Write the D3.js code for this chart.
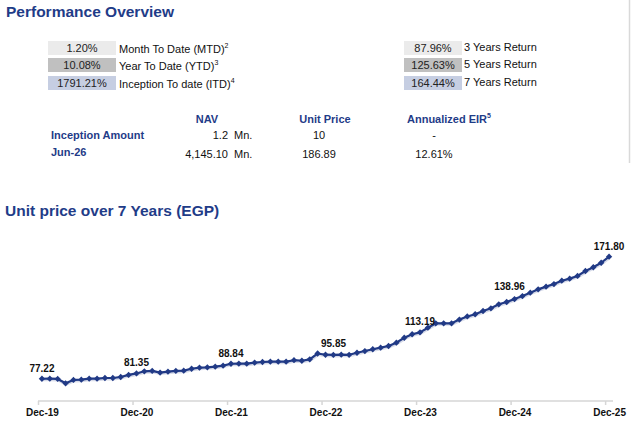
<!DOCTYPE html>
<html>
<head>
<meta charset="utf-8">
<script src="https://cdn.jsdelivr.net/npm/d3@7"></script>
<style>
  html, body { margin: 0; padding: 0; background: #ffffff; }
  svg { display: block; font-family: "Liberation Sans", Arial, sans-serif; }
</style>
</head>
<body>
<svg id="chart" width="631" height="430"></svg>
<script>
// ---------- data ----------
const leftReturnValues = ["1.20%", "10.08%", "1791.21%"];
const leftReturnLabels = ["Month To Date (MTD)", "Year To Date (YTD)", "Inception To date (ITD)"];
const leftReturnNotes  = ["2", "3", "4"];
const rightReturnValues = ["87.96%", "125.63%", "164.44%"];
const rightReturnLabels = ["3 Years Return", "5 Years Return", "7 Years Return"];

const tableHeaders = ["NAV", "Unit Price", "Annualized EIR"];
const tableRowNames = ["Inception Amount", "Jun-26"];
const tableNav = ["1.2", "4,145.10"];
const tableUnitPrice = ["10", "186.89"];
const tableEir = ["-", "12.61%"];

const startMonth = new Date(2019, 11, 1);
const months = d3.timeMonth.range(startMonth, new Date(2026, 0, 1));
const categories = months.map(d3.timeFormat("%b-%y"));
const unitPrice = [
  77.22, 77.3, 77.1, 73.7, 76.3, 76.5, 77.3, 77.3, 77.8, 77.8, 78.6, 80.2,
  81.35, 83.0, 83.3, 82.0, 82.7, 83.3, 83.5, 85.0, 85.8, 86.1, 86.6, 87.4,
  88.84, 88.9, 88.9, 89.7, 90.2, 90.5, 90.5, 90.5, 91.6, 91.2, 92.3, 96.8,
  95.85, 95.7, 95.9, 95.8, 97.4, 98.7, 100.1, 101.3, 102.6, 105.2, 109.0, 111.7,
  113.19, 116.8, 120.2, 120.2, 120.2, 123.1, 125.5, 127.2, 129.7, 131.8, 134.9, 136.7,
  138.96, 141.3, 143.9, 146.5, 148.6, 150.6, 153.2, 154.8, 156.9, 160.7, 163.6, 167.1,
  171.80
];
const tickLabels = ["Dec-19", "Dec-20", "Dec-21", "Dec-22", "Dec-23", "Dec-24", "Dec-25"];

// ---------- drawing ----------
const svg = d3.select("#chart");
const BLUE = "#1f3c88";
const LINE = "#213a86";

// right separator line
svg.append("line").attr("x1", 629.5).attr("x2", 629.5).attr("y1", 0).attr("y2", 163)
  .attr("stroke", "#d9d9d9").attr("stroke-width", 1.5);

// title
svg.append("text").attr("x", 6).attr("y", 17).attr("fill", BLUE)
  .attr("font-size", "15.5px").attr("font-weight", "bold").text("Performance Overview");

const boxFills = ["#ebebeb", "#c0c0c0", "#c6cee2"];
const rowTops = [41, 58, 76];

// left return boxes
leftReturnValues.forEach((v, i) => {
  svg.append("rect").attr("x", 48).attr("y", rowTops[i]).attr("width", 68).attr("height", 14)
    .attr("fill", boxFills[i]);
  svg.append("text").attr("x", 82).attr("y", rowTops[i] + 11).attr("text-anchor", "middle")
    .attr("font-size", "11px").attr("fill", "#222").text(v);
  const t = svg.append("text").attr("x", 119).attr("y", rowTops[i] + 12)
    .attr("font-size", "11px").attr("fill", "#111");
  t.append("tspan").text(leftReturnLabels[i]);
  t.append("tspan").attr("dy", -5).attr("font-size", "7px").text(leftReturnNotes[i]);
});

// right return boxes
rightReturnValues.forEach((v, i) => {
  svg.append("rect").attr("x", 404).attr("y", rowTops[i]).attr("width", 58).attr("height", 14)
    .attr("fill", boxFills[i]);
  svg.append("text").attr("x", 433).attr("y", rowTops[i] + 11).attr("text-anchor", "middle")
    .attr("font-size", "11px").attr("fill", "#222").text(v);
  svg.append("text").attr("x", 464).attr("y", rowTops[i] + 10)
    .attr("font-size", "11px").attr("fill", "#111").text(rightReturnLabels[i]);
});

// table headers
svg.append("text").attr("x", 207).attr("y", 123).attr("text-anchor", "middle")
  .attr("font-size", "11px").attr("font-weight", "bold").attr("fill", BLUE).text(tableHeaders[0]);
svg.append("text").attr("x", 325).attr("y", 123).attr("text-anchor", "middle")
  .attr("font-size", "11px").attr("font-weight", "bold").attr("fill", BLUE).text(tableHeaders[1]);
const eir = svg.append("text").attr("x", 407).attr("y", 123)
  .attr("font-size", "11px").attr("font-weight", "bold").attr("fill", BLUE);
eir.append("tspan").text(tableHeaders[2]);
eir.append("tspan").attr("dy", -5).attr("font-size", "7px").text("5");

const rowBase = [139, 158];
tableRowNames.forEach((name, i) => {
  svg.append("text").attr("x", 51).attr("y", rowBase[i] - (i === 1 ? 2 : 0))
    .attr("font-size", "11px").attr("font-weight", "bold").attr("fill", BLUE).text(name);
  svg.append("text").attr("x", 228).attr("y", rowBase[i]).attr("text-anchor", "end")
    .attr("font-size", "11px").attr("fill", "#111").text(tableNav[i]);
  svg.append("text").attr("x", 234).attr("y", rowBase[i])
    .attr("font-size", "11px").attr("fill", "#111").text("Mn.");
  svg.append("text").attr("x", 319).attr("y", rowBase[i]).attr("text-anchor", "middle")
    .attr("font-size", "11px").attr("fill", "#111").text(tableUnitPrice[i]);
  svg.append("text").attr("x", 434).attr("y", rowBase[i]).attr("text-anchor", "middle")
    .attr("font-size", "11px").attr("fill", "#111").text(tableEir[i]);
});

// chart title
svg.append("text").attr("x", 5).attr("y", 216).attr("fill", BLUE)
  .attr("font-size", "15.5px").attr("font-weight", "bold").text("Unit price over 7 Years (EGP)");

// scales
const x = d3.scalePoint().domain(categories).range([38, 613]).padding(0.5);
const y = d3.scaleLinear().domain([60, 180]).range([401, 246.1]);
const step = x.step();

// axis
const axisG = svg.append("g").attr("transform", "translate(0,401)");
const axis = d3.axisBottom(x).tickValues(tickLabels).tickSize(0).tickPadding(0).tickFormat(d => d);
axisG.call(axis);
axisG.select(".domain").remove();
axisG.append("line").attr("x1", 38).attr("x2", 613).attr("y1", 0).attr("y2", 0)
  .attr("stroke", "#d6d6d6").attr("stroke-width", 1.5);
axisG.selectAll(".tick").each(function(d) {
  const g = d3.select(this);
  g.select("line").remove();
  g.append("line").attr("x1", -step / 2).attr("x2", -step / 2).attr("y1", 0).attr("y2", 4)
    .attr("stroke", "#d6d6d6").attr("stroke-width", 1.5);
  g.select("text").attr("y", 15).attr("dy", null)
    .attr("font-family", "'Liberation Sans', Arial, sans-serif")
    .attr("font-size", "10px").attr("font-weight", "bold").attr("fill", "#111");
});

// line
const pts = categories.map((c, i) => ({ c, v: unitPrice[i] }));
svg.append("path").datum(pts)
  .attr("fill", "none").attr("stroke", "#9aa6c8").attr("stroke-width", 3.4).attr("opacity", 0.4)
  .attr("d", d3.line().x(d => x(d.c) + 0.5).y(d => y(d.v) + 0.8));
svg.append("path").datum(pts)
  .attr("fill", "none").attr("stroke", LINE).attr("stroke-width", 2.2)
  .attr("stroke-linejoin", "round")
  .attr("d", d3.line().x(d => x(d.c)).y(d => y(d.v)));

svg.append("g").selectAll("path").data(pts).join("path")
  .attr("transform", d => `translate(${x(d.c)},${y(d.v)}) rotate(45)`)
  .attr("d", d3.symbol(d3.symbolSquare, 20))
  .attr("fill", LINE);

// data labels on tick months
const nudge = { "Dec-22": [8, -1], "Dec-24": [-5, -2] };
svg.append("g").selectAll("text").data(pts.filter(p => tickLabels.includes(p.c))).join("text")
  .attr("x", d => x(d.c) + (nudge[d.c] ? nudge[d.c][0] : 0))
  .attr("y", d => y(d.v) - 7 + (nudge[d.c] ? nudge[d.c][1] : 0))
  .attr("text-anchor", "middle").attr("font-size", "10px").attr("font-weight", "bold")
  .attr("fill", "#111").text(d => d.v.toFixed(2));
</script>
</body>
</html>
